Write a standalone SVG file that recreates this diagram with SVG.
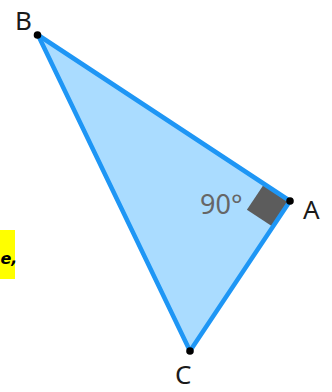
<svg xmlns="http://www.w3.org/2000/svg" width="332" height="392" viewBox="0 0 332 392">
<style>
.lbl{font-family:"Noto Sans","DejaVu Sans",sans-serif;font-size:26px;fill:#1a1a1a}
.ang{font-family:"Noto Sans","DejaVu Sans",sans-serif;font-size:27px;fill:#666}
.pt{fill:#000}
</style>
<rect width="332" height="392" fill="#fff"/>
<g id="highlight">
<rect x="0" y="230" width="15" height="49" fill="#ffff00"/>
<text x="0.5" y="264" font-family="'DejaVu Sans',sans-serif" font-style="italic" font-weight="bold" font-size="16" fill="#000">e,</text>
</g>
<g id="triangle">
<polygon points="38,35 290,201 190,351" fill="#aadcff"/>
</g>
<g id="right-angle">
<polygon points="290,201 264.1,184 246.9,209.8 272.8,226.8" fill="#5c5c5c"/>
<text class="ang" x="200" y="214">90°</text>
</g>
<g id="connectors" stroke="#1e96f5" stroke-width="4.5" stroke-linecap="round" fill="none">
<line x1="38" y1="35" x2="290" y2="201"/>
<line x1="290" y1="201" x2="190" y2="351"/>
<line x1="190" y1="351" x2="38" y2="35"/>
</g>
<g id="B"><circle class="pt" cx="37.5" cy="35" r="3.8"/><text class="lbl" x="15" y="30">B</text></g>
<g id="A"><circle class="pt" cx="290" cy="201" r="3.8"/><text class="lbl" x="303" y="219">A</text></g>
<g id="C"><circle class="pt" cx="190" cy="351" r="3.8"/><text class="lbl" x="175" y="384">C</text></g>
</svg>
